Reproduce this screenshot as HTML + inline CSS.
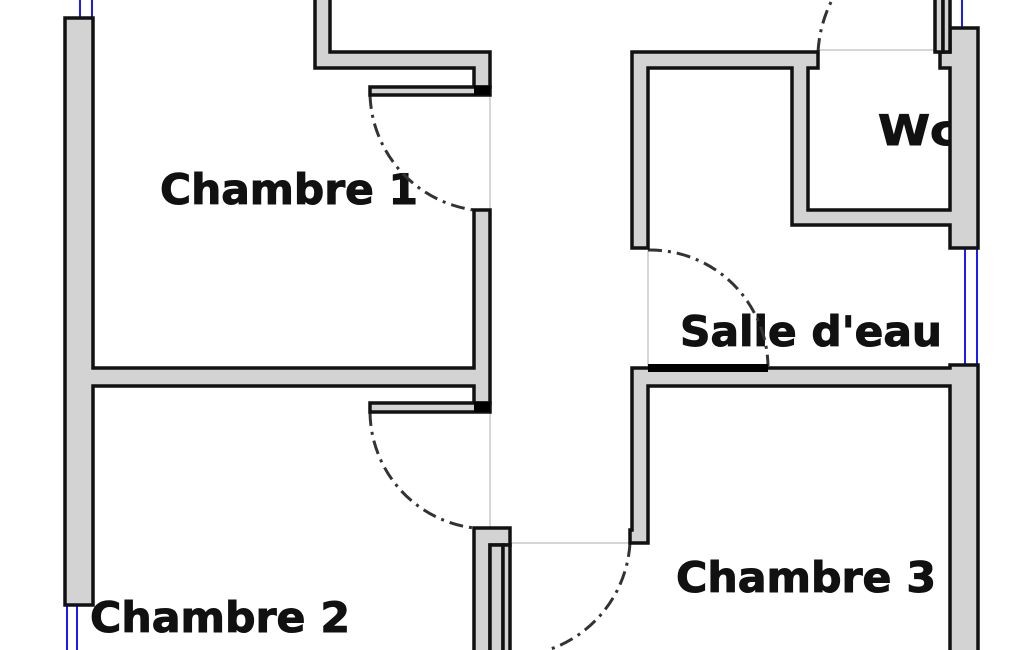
<!DOCTYPE html>
<html><head><meta charset="utf-8"><style>html,body{margin:0;padding:0;background:#fff;overflow:hidden}svg{display:block}</style></head>
<body>
<svg width="1025" height="650" viewBox="0 0 1025 650" xmlns="http://www.w3.org/2000/svg">
<g font-family="'DejaVu Sans','Liberation Sans',sans-serif" font-weight="bold" font-size="42" fill="#111" stroke="#111" stroke-width="1">
<text x="160" y="204" textLength="258" lengthAdjust="spacingAndGlyphs">Chambre 1</text>
<text x="90" y="632" textLength="260" lengthAdjust="spacingAndGlyphs">Chambre 2</text>
<text x="676" y="592" textLength="260" lengthAdjust="spacingAndGlyphs">Chambre 3</text>
<text x="680" y="346" textLength="262" lengthAdjust="spacingAndGlyphs">Salle d'eau</text>
<text x="878" y="145" textLength="80" lengthAdjust="spacingAndGlyphs">Wc</text>
</g>
<g stroke="#c8c8c8" stroke-width="1.5" fill="none">
<line x1="490" y1="95" x2="490" y2="210"/>
<line x1="490" y1="412" x2="490" y2="528"/>
<line x1="510" y1="543" x2="630" y2="543"/>
<line x1="648" y1="248" x2="648" y2="366"/>
<line x1="818" y1="50" x2="940" y2="50"/>
</g>
<g stroke="#333" stroke-width="3" fill="none" stroke-dasharray="14 6 3 6">
<path d="M370 95 A120 120 0 0 0 474 210"/>
<path d="M370 412 A118 118 0 0 0 474 528"/>
<path d="M630 543 A120 120 0 0 1 548 650"/>
<path d="M648 250 A118 118 0 0 1 768 366"/>
<path d="M818 52 A130 130 0 0 1 832 0"/>
</g>
<g stroke="#1a1aff" stroke-width="2">
<line x1="80" y1="0" x2="80" y2="18"/><line x1="92" y1="0" x2="92" y2="18"/>
<line x1="67" y1="605" x2="67" y2="650"/><line x1="77" y1="605" x2="77" y2="650"/>
<line x1="950" y1="0" x2="950" y2="28"/><line x1="962" y1="0" x2="962" y2="28"/>
<line x1="965" y1="248" x2="965" y2="366"/><line x1="977" y1="248" x2="977" y2="366"/>
</g>
<g fill="#d3d3d3" stroke="#111" stroke-width="3.5" stroke-linejoin="miter">
<path d="M65 18 H93 V368 H474 V210 H490 V403 H474 V386 H93 V605 H65 Z"/>
<path d="M315 -5 V68 H474 V87 H490 V52 H330 V-5"/>
<rect x="370" y="87" width="120" height="8"/>
<rect x="370" y="403" width="120" height="9"/>
<path d="M474 655 V528 H510 V545 H490 V655"/>
<rect x="490" y="545" width="13" height="110"/>
<rect x="503" y="545" width="7" height="110"/>
<path d="M632 248 V52 H818 V68 H808 V210 H950 V68 H940 V52 H950 V28 H978 V248 H950 V225 H792 V68 H648 V248 Z"/>
<rect x="935" y="-5" width="8" height="57"/>
<rect x="943" y="-5" width="7" height="57"/>
<path d="M630 543 V530 H632 V368 H950 V365 H978 V655 H950 V386 H648 V543 Z"/>
</g>
<g fill="#000">
<rect x="474" y="86" width="16" height="9"/>
<rect x="474" y="402" width="16" height="10"/>
<rect x="648" y="364" width="120" height="8"/>
</g>
</svg>
</body></html>
